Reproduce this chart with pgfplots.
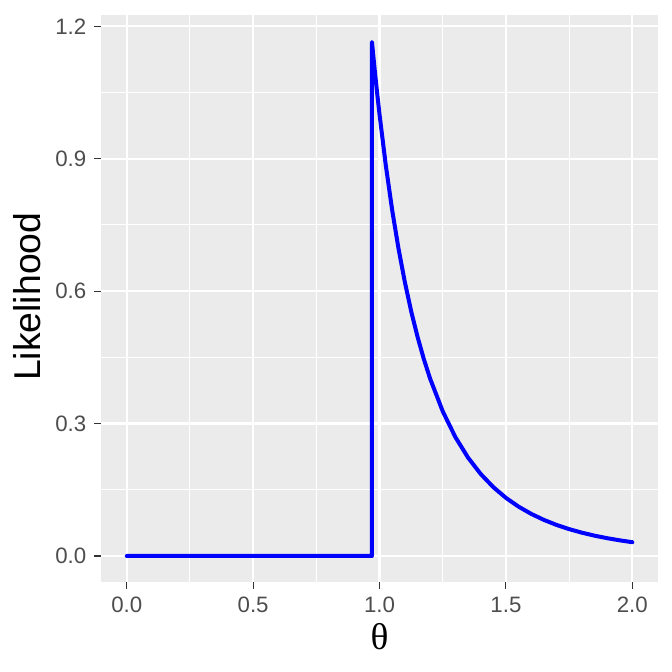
\documentclass[border=0pt]{standalone}
\usepackage{fontspec}
\setmainfont{Liberation Sans}
\newfontfamily\greekfont{Liberation Serif}
\usepackage{pgfplots}
\pgfplotsset{compat=1.18}
\definecolor{panel}{HTML}{EBEBEB}
\definecolor{gray30}{HTML}{4D4D4D}
\definecolor{gray20}{HTML}{333333}
\begin{document}
\begin{tikzpicture}
\useasboundingbox (0,0) rectangle (504bp,504bp);
\begin{axis}[
    at={(76.1bp,67.7bp)}, anchor=south west,
    scale only axis, width=417.1bp, height=425bp,
    xmin=-0.1, xmax=2.1, ymin=-0.0583, ymax=1.2254,
    axis background/.style={fill=panel},
    axis line style={draw=none},
    grid=both,
    major grid style={white, line width=1.6bp},
    minor grid style={white, line width=0.8bp},
    xtick={0,0.5,1,1.5,2}, minor xtick={0.25,0.75,1.25,1.75},
    ytick={0,0.3,0.6,0.9,1.2}, minor ytick={0.15,0.45,0.75,1.05},
    xticklabels={0.0,0.5,1.0,1.5,2.0},
    yticklabels={0.0,0.3,0.6,0.9,1.2},
    tick align=outside, tick pos=left,
    major tick length=5.5bp, minor tick length=0pt,
    tick style={gray20, line width=0.8bp},
    ticklabel style={font=\fontsize{16.7bp}{20bp}\selectfont, text=gray30, inner sep=0pt},
    xticklabel style={anchor=north, yshift=-5.7bp},
    yticklabel style={anchor=east, xshift=-5.7bp},
    xlabel={{\greekfont θ}},
    ylabel={Likelihood},
    label style={font=\fontsize{28bp}{32bp}\selectfont, inner sep=0pt},
    xlabel style={at={(axis description cs:0.5,-0.0967)}, anchor=center},
    ylabel style={at={(axis description cs:-0.133,0.503)}, anchor=center},
]
\addplot[blue, line width=3bp, line join=round, line cap=round] coordinates {
(0,0) (0.25,0) (0.5,0) (0.75,0) (0.9699,0)
(0.97,1.1644) (0.98,1.1063) (0.99,1.0515) (1.0,1.0)
(1.025,0.8839) (1.05,0.7835) (1.075,0.6966) (1.1,0.6209)
(1.125,0.5549) (1.15,0.4972) (1.175,0.4465) (1.2,0.4019)
(1.25,0.3277) (1.3,0.2693) (1.35,0.2230) (1.4,0.1859)
(1.45,0.1560) (1.5,0.1317) (1.55,0.1118) (1.6,0.0954)
(1.65,0.0818) (1.7,0.0704) (1.75,0.0609) (1.8,0.0529)
(1.85,0.0461) (1.9,0.0404) (1.95,0.0355) (2.0,0.03125)
};
\end{axis}
\end{tikzpicture}
\end{document}
